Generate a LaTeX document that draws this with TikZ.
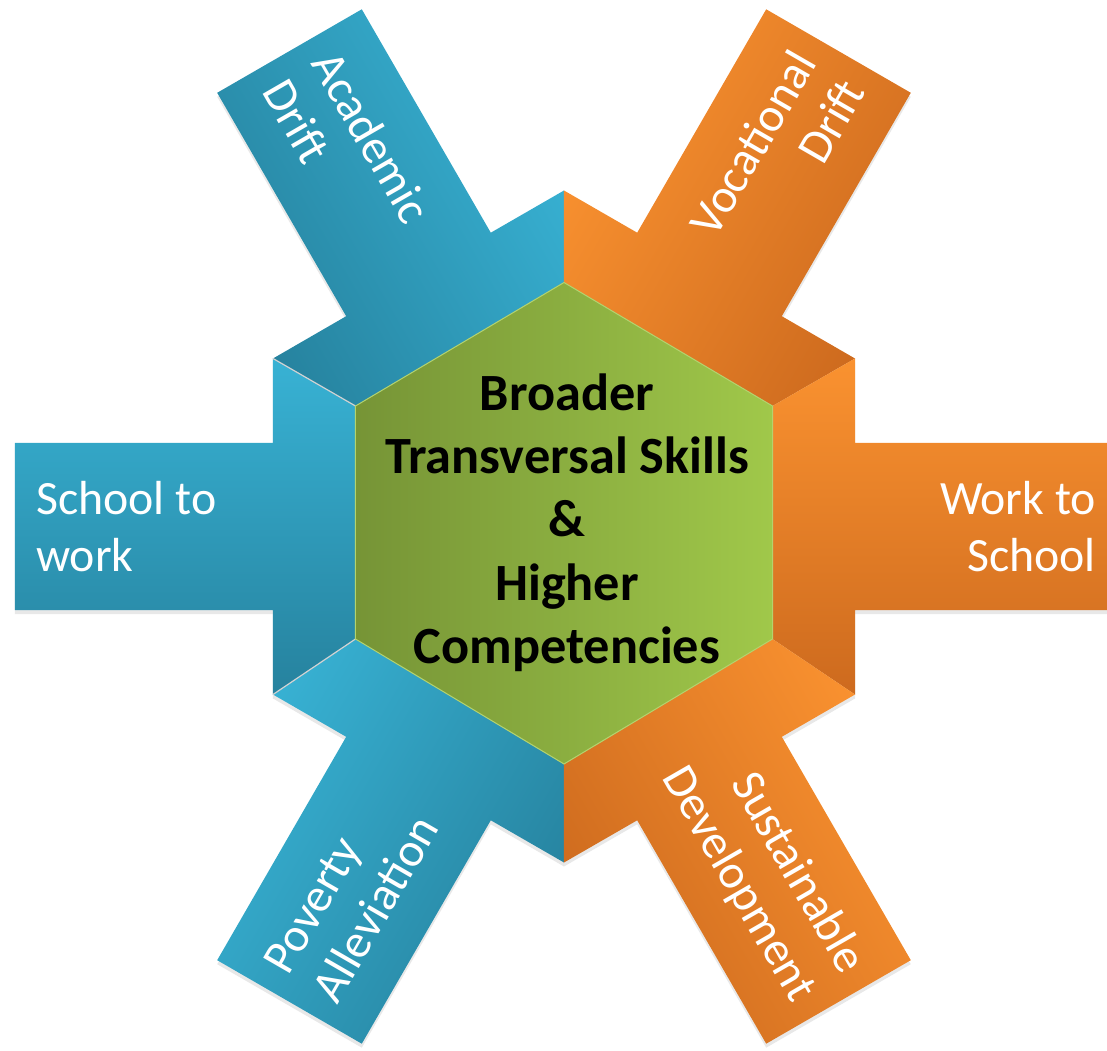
\documentclass[tikz,border=0pt]{standalone}
\usepackage{fontspec}
\setmainfont{Carlito}
\usepackage{tikz}
\usetikzlibrary{shadows}
\definecolor{bluelt}{RGB}{56,178,212}
\definecolor{bluedk}{RGB}{38,130,158}
\definecolor{orangelt}{RGB}{250,146,48}
\definecolor{orangedk}{RGB}{205,106,30}
\definecolor{greendk}{RGB}{118,148,54}
\definecolor{greenlt}{RGB}{160,200,74}

\begin{document}
\begin{tikzpicture}[x=1bp, y=1bp,
	blueunit/.style={top color=bluelt, bottom color=bluedk, drop shadow={shadow xshift=0bp, shadow yshift=-4bp, opacity=0.18}},
	orangeunit/.style={top color=orangelt, bottom color=orangedk, drop shadow={shadow xshift=0bp, shadow yshift=-4bp, opacity=0.18}},
	seam/.style={line width=1.2bp, gray!35},
	armtext/.style={inner sep=0pt, text=white, font=\fontsize{48}{57}\selectfont},
	coretext/.style={inner sep=0pt, align=center, font=\fontsize{52.5}{63.5}\selectfont\bfseries}]
		\useasboundingbox (-564,-524.5) rectangle (543,526.5);
		
		\coordinate (O1) at (0,336);
		\coordinate (O2) at (291,168);
		\coordinate (O3) at (291,-168);
		\coordinate (O4) at (0,-336);
		\coordinate (O5) at (-291,-168);
		\coordinate (O6) at (-291,168);
		
		\coordinate (I1) at (0,244);
		\coordinate (I2) at (208.5,120.5);
		\coordinate (I3) at (208.5,-112.5);
		\coordinate (I4) at (0,-237.5);
		\coordinate (I5) at (-208.5,-112.5);
		\coordinate (I6) at (-208.5,120.5);
		
		\shade [blueunit, shading angle=-60] (I6) -- (O6) -- (-217.8,210.3) -- (-346.8,433.7) -- (-202.2,517.2) -- (-73.2,293.8) -- (O1) -- (I1) -- cycle;
		\shade [orangeunit, shading angle=60] (I1) -- (O1) -- (73.2,293.8) -- (202.2,517.2) -- (346.8,433.7) -- (217.8,210.3) -- (O2) -- (I2) -- cycle;
		\shade [blueunit, shading angle=0] (I5) -- (O5) -- (-291,-83.5) -- (-549,-83.5) -- (-549,83.5) -- (-291,83.5) -- (O6) -- (I6) -- cycle;
		\shade [orangeunit, shading angle=0] (I2) -- (O2) -- (291,83.5) -- (549,83.5) -- (549,-83.5) -- (291,-83.5) -- (O3) -- (I3) -- cycle;
		\shade [blueunit, shading angle=60] (I4) -- (O4) -- (-73.2,-293.8) -- (-202.2,-517.2) -- (-346.8,-433.7) -- (-217.8,-210.3) -- (O5) -- (I5) -- cycle;
		\shade [orangeunit, shading angle=-60] (I3) -- (O3) -- (217.8,-210.3) -- (346.8,-433.7) -- (202.2,-517.2) -- (73.2,-293.8) -- (O4) -- (I4) -- cycle;
		
		\draw [seam] (I6) -- (O6);
		\draw [seam] (I5) -- (O5);
		
		\shade [left color=greendk, right color=greenlt, draw=greenlt!80!white, line width=1bp] (I1) -- (I2) -- (I3) -- (I4) -- (I5) -- (I6) -- cycle;
		
		\node [coretext] (core) at (3,4) {Broader\\Transversal Skills\\\&\\Higher\\Competencies};
		
		\node [armtext, align=left, anchor=west] (school) at (-528,0) {School to\\work};
		\node [armtext, align=right, anchor=east] (work) at (532,0) {Work to\\School};
		\node [armtext, align=left, anchor=west, rotate=-60] (academic) at (120:528) {Academic\\Drift};
		\node [armtext, align=right, anchor=east, rotate=60] (vocational) at (60:528) {Vocational\\Drift};
		\node [armtext, align=left, anchor=west, rotate=60] (poverty) at (240:528) {Poverty\\Alleviation};
		\node [armtext, align=right, anchor=east, rotate=-60] (sustainable) at (300:528) {Sustainable\\Development};
\end{tikzpicture}
\end{document}
